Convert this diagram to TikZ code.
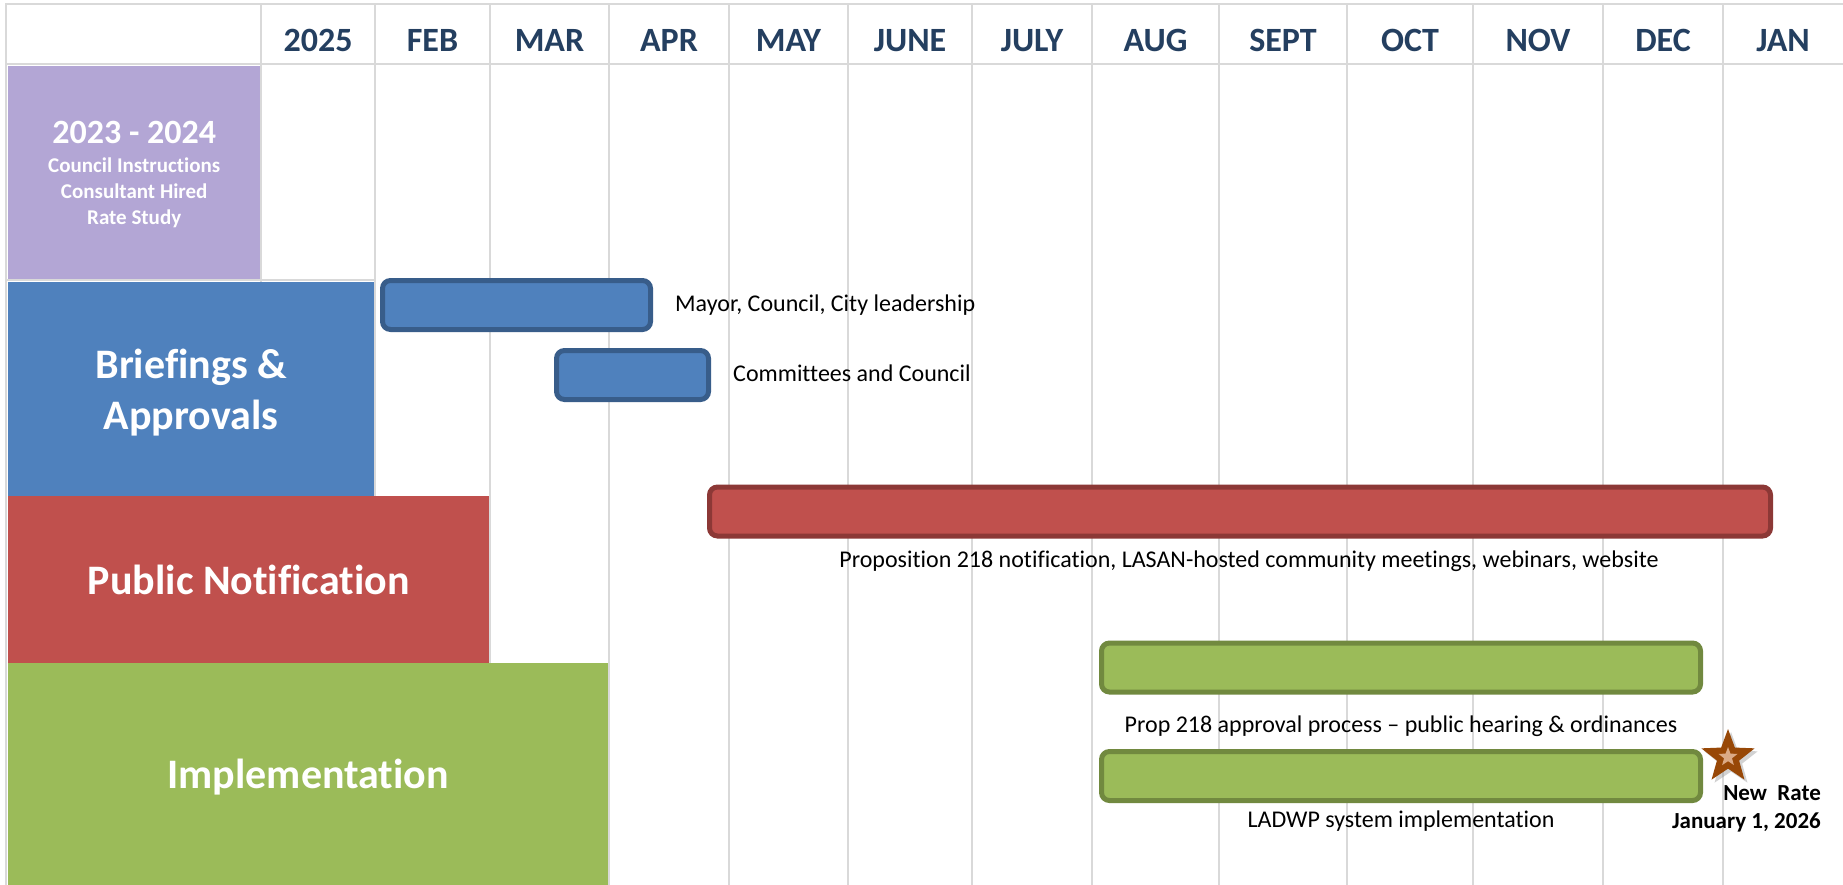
\documentclass[tikz,border=0pt]{standalone}
\usepackage{fontspec}
\setmainfont{Carlito}[Ligatures=NoCommon]
\usetikzlibrary{positioning,shapes.geometric,shadows}

\definecolor{gridgray}{HTML}{D9D9D9}
\definecolor{headnavy}{HTML}{243F60}
\definecolor{prefill}{HTML}{B3A6D5}
\definecolor{bluefill}{HTML}{4F81BD}
\definecolor{blueedge}{HTML}{385D8A}
\definecolor{redfill}{HTML}{C0504D}
\definecolor{rededge}{HTML}{8C3836}
\definecolor{greenfill}{HTML}{9BBB59}
\definecolor{greenedge}{HTML}{71893F}
\definecolor{starbrown}{HTML}{984807}
\definecolor{starlight}{HTML}{DBAA86}

\begin{document}
\begin{tikzpicture}[
    x=1pt, y=-1pt,
    gridline/.style={draw=gridgray, line width=2.6pt, line cap=rect},
    month/.style={anchor=base, inner sep=0pt, text=headnavy, font=\fontsize{34}{40}\selectfont\bfseries},
    phase/.style={anchor=north west, inner sep=0pt, text=white, align=center, text depth=0pt, font=\fontsize{42}{51}\selectfont\bfseries},
    bar/.style={rounded corners=8pt, line width=5pt, inner sep=0pt, minimum height=49pt},
    bluebar/.style={bar, fill=bluefill, draw=blueedge},
    redbar/.style={bar, fill=redfill, draw=rededge},
    greenbar/.style={bar, fill=greenfill, draw=greenedge},
    barlabel/.style={inner sep=0pt, text height=17pt, text depth=5pt, font=\fontsize{24}{29}\selectfont},
]
\useasboundingbox[fill=white] (0,0) rectangle (1843,885);

% Table grid
\draw[gridline] (6,4) -- (1843,4);
\draw[gridline] (6,64) -- (1843,64);
\draw[gridline] (6,4) -- (6,885) (261,4) -- (261,885) (375,4) -- (375,885)
    (490,4) -- (490,885) (609,4) -- (609,885) (729,4) -- (729,885)
    (848,4) -- (848,885) (972,4) -- (972,885) (1092,4) -- (1092,885)
    (1219,4) -- (1219,885) (1347,4) -- (1347,885) (1473,4) -- (1473,885)
    (1603,4) -- (1603,885) (1723,4) -- (1723,885);
\draw[gridline] (6,280) -- (375,280);

% Month headings
\node[month] (y2025) at (318,52) {2025};
\node[month] (feb) at (432.5,52) {FEB};
\node[month] (mar) at (549.5,52) {MAR};
\node[month] (apr) at (669,52) {APR};
\node[month] (may) at (788.5,52) {MAY};
\node[month] (jun) at (910,52) {JUNE};
\node[month] (jul) at (1032,52) {JULY};
\node[month] (aug) at (1155.5,52) {AUG};
\node[month] (sep) at (1283,52) {SEPT};
\node[month] (oct) at (1410,52) {OCT};
\node[month] (nov) at (1538,52) {NOV};
\node[month] (dec) at (1663,52) {DEC};
\node[month] (jan) at (1783,52) {JAN};

% Phase blocks
\node[phase, fill=prefill, minimum width=252pt, minimum height=213pt,
      font=\fontsize{21}{26}\selectfont\bfseries] (prior) at (8,66)
    {{\fontsize{34}{40}\selectfont 2023 - 2024}\\[3pt]Council Instructions\\Consultant Hired\\Rate Study};
\node[phase, fill=bluefill, minimum width=366pt, minimum height=214pt] (brief) at (8,282)
    {Briefings \&\\Approvals};
\node[phase, fill=redfill, minimum width=481pt, minimum height=167pt] (notify) at (8,496)
    {Public Notification};
\node[phase, fill=greenfill, minimum width=600pt, minimum height=222pt, text depth=-8pt] (impl) at (8,663)
    {Implementation};

% Briefings bars
\node[bluebar, minimum width=268pt] (b1) at (516.5,305) {};
\node[barlabel, right=22pt of b1] (b1txt) {Mayor, Council, City leadership};
\node[bluebar, minimum width=152pt] (b2) at (632.5,375) {};
\node[barlabel, right=22pt of b2] (b2txt) {Committees and Council};

% Notification bar
\node[redbar, minimum width=1061pt] (r1) at (1240,511.5) {};
\node[barlabel, below=12pt of r1, xshift=9pt] (r1txt)
    {Proposition 218 notification, LASAN-hosted community meetings, webinars, website};

% Implementation bars
\node[greenbar, minimum width=599pt] (g1) at (1401,667.5) {};
\node[barlabel, below=21pt of g1] (g1txt) {Prop 218 approval process -- public hearing \& ordinances};
\node[greenbar, minimum width=599pt] (g2) at (1401,776) {};
\node[barlabel, below=7pt of g2] (g2txt) {LADWP system implementation};

% New rate milestone
\node[star, star points=5, star point ratio=2.4, minimum size=56pt, inner sep=0pt, fill=starbrown,
      drop shadow={shadow xshift=3pt, shadow yshift=-3pt, opacity=0.35}] (star) at (1728,757) {};
\node[star, star points=5, star point ratio=2.4, minimum size=20pt, inner sep=0pt, fill=starlight] (starhl) at (star.center) {};
\node[anchor=north east, inner sep=0pt, align=right, font=\fontsize{23}{28}\selectfont\bfseries] (newrate) at (1821,785)
    {New\ \ Rate\\January 1, 2026};

\end{tikzpicture}
\end{document}
